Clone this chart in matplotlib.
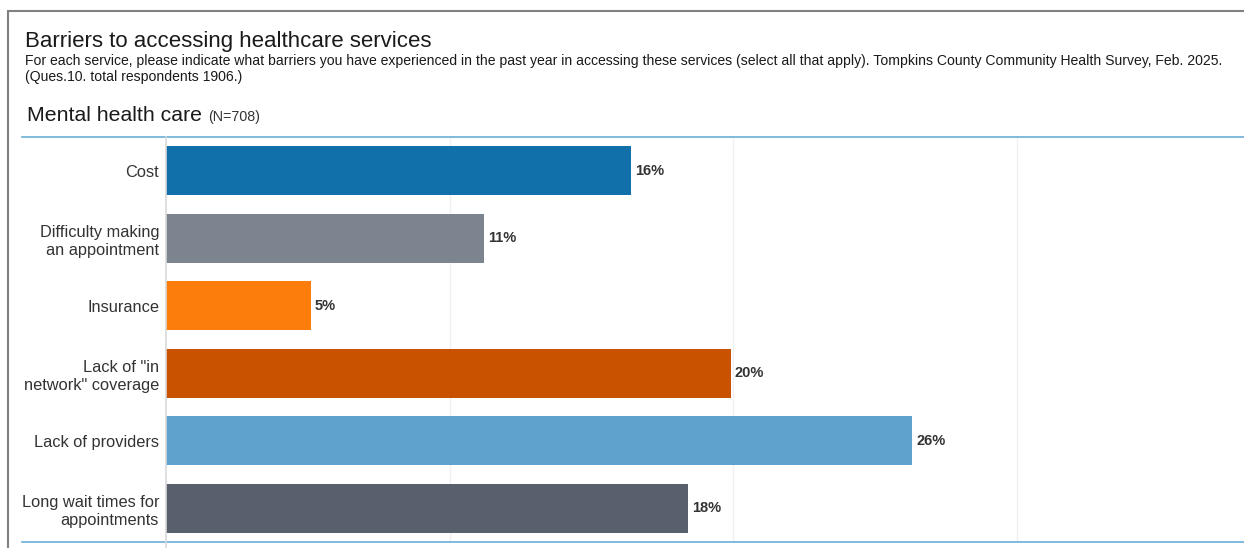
import matplotlib
matplotlib.use("Agg")
import matplotlib.pyplot as plt
from matplotlib.lines import Line2D
from matplotlib.patches import Rectangle

categories = ["Cost", "Difficulty making\nan appointment", "Insurance",
              "Lack of \"in\nnetwork\" coverage", "Lack of providers",
              "Long wait times for\nappointments"]
values = [16.4, 11.2, 5.1, 19.9, 26.3, 18.4]
labels = ["16%", "11%", "5%", "20%", "26%", "18%"]
colors = ["#1170aa", "#7b848f", "#fc7d0b", "#c85200", "#5fa2ce", "#57606c"]

plt.rcParams['font.family'] = ['Liberation Sans', 'DejaVu Sans']

W, H = 1244, 548
fig = plt.figure(figsize=(W/100, H/100), dpi=100)

def fx(x): return x / W
def fy(y): return 1 - y / H

# outer frame
fig.patches.append(Rectangle((fx(8), fy(600)), 2, fy(11) - fy(600), transform=fig.transFigure,
                             fill=False, edgecolor="#808080", linewidth=1.5))

fig.text(fx(25), fy(47), "Barriers to accessing healthcare services", fontsize=16,
         color="#1a1a1a", va="baseline", ha="left")
fig.text(fx(25), fy(65), "For each service, please indicate what barriers you have experienced in the past year in accessing these services (select all that apply). Tompkins County Community Health Survey, Feb. 2025.",
         fontsize=10.1, color="#1a1a1a", va="baseline", ha="left")
fig.text(fx(25), fy(81), "(Ques.10. total respondents 1906.)", fontsize=10.1, color="#1a1a1a",
         va="baseline", ha="left")
t = fig.text(fx(27), fy(121), "Mental health care", fontsize=15.3, color="#1a1a1a",
             va="baseline", ha="left")
fig.canvas.draw()
bb = t.get_window_extent()
fig.text(bb.x1 / W + fx(6), fy(121), "(N=708)", fontsize=10.3, color="#333333",
         va="baseline", ha="left")

ax = fig.add_axes([fx(166), fy(542), 1 - fx(166), fy(137) - fy(542)])
y = list(range(len(categories)))
ax.barh(y, values, height=0.73, color=colors, zorder=3)
for yi, v, lab in zip(y, values, labels):
    ax.text(v + 0.14, yi, lab, va="center", ha="left", fontsize=10.5, fontweight="bold",
            color="#333333", family=['Liberation Sans Narrow', 'Liberation Sans', 'DejaVu Sans'],
            zorder=4)
ax.set_ylim(5.5, -0.5)
ax.set_xlim(0, (W - 166) / 28.37)
ax.set_yticks(y)
ax.set_yticklabels(categories, fontsize=11.8, color="#333333", linespacing=1.3)
ax.tick_params(axis="y", length=0, pad=5)
ax.set_xticks([10, 20, 30])
ax.tick_params(axis="x", length=0, labelbottom=False)
ax.grid(axis="x", color="#f0f0f0", linewidth=1, zorder=0)
for s in ax.spines.values():
    s.set_visible(False)

# blue horizontal rules extending into label area
for yy in (137, 542):
    fig.lines.append(Line2D([fx(22), 1], [fy(yy), fy(yy)], transform=fig.transFigure,
                            color="#6baed6", linewidth=1.2))
# zero line
fig.lines.append(Line2D([fx(166), fx(166)], [fy(137), 0], transform=fig.transFigure,
                        color="#d9d9d9", linewidth=1.2))

fig.savefig("out.png", dpi=100)
